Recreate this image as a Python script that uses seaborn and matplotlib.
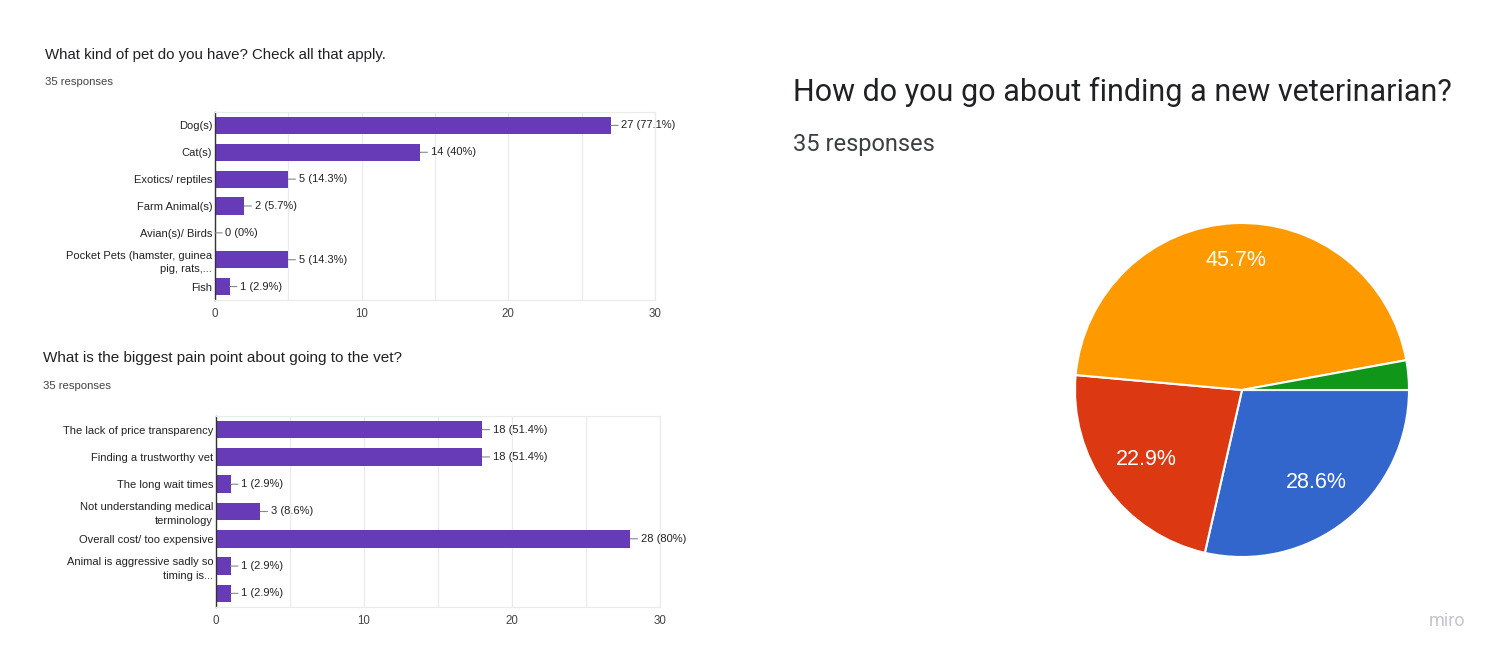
import matplotlib
matplotlib.use("Agg")
import matplotlib.pyplot as plt
import seaborn as sns
import pandas as pd

# ---------------- data ----------------
pet_categories = ["Dog(s)", "Cat(s)", "Exotics/ reptiles", "Farm Animal(s)",
                  "Avian(s)/ Birds", "Pocket Pets (hamster, guinea\npig, rats,...", "Fish"]
pet_counts = [27, 14, 5, 2, 0, 5, 1]

pain_categories = ["The lack of price transparency", "Finding a trustworthy vet",
                   "The long wait times", "Not understanding medical\nterminology",
                   "Overall cost/ too expensive", "Animal is aggressive sadly so\ntiming is...", " "]
pain_counts = [18, 18, 1, 3, 28, 1, 1]

n_responses = 35
x_ticks = [0, 10, 20, 30]

pie_counts = [10, 8, 16, 1]
pie_colors = ["#3366cc", "#dc3912", "#ff9900", "#109618"]

# ---------------- style ----------------
sns.set_theme(style="white")
plt.rcParams['font.family'] = ['Liberation Sans', 'DejaVu Sans']

W, H = 1505, 664
fig = plt.figure(figsize=(W / 100, H / 100), dpi=100)
fig.patch.set_facecolor("white")

BAR = "#673ab7"


def px(x, y_top, w, h):
    return [x / W, (H - y_top - h) / H, w / W, h / H]


def bar_chart(rect, cats, vals):
    ax = fig.add_axes(rect)
    df = pd.DataFrame({"cat": cats, "val": vals})
    sns.barplot(data=df, x="val", y="cat", orient="h", color=BAR, width=0.64,
                saturation=1, ax=ax, edgecolor=BAR, linewidth=0)
    ax.set_xlim(0, 30)
    ax.set_ylim(len(cats) - 0.5, -0.5)
    ax.set_xticks(x_ticks)
    ax.set_xticks([5, 15, 25], minor=True)
    ax.grid(axis="x", which="both", color="#ebebeb", linewidth=0.9)
    ax.set_axisbelow(True)
    ax.set_xlabel("")
    ax.set_ylabel("")
    for s in ["top", "right", "bottom"]:
        ax.spines[s].set_color("#ebebeb")
        ax.spines[s].set_linewidth(0.9)
    ax.spines["left"].set_color("#333333")
    ax.spines["left"].set_linewidth(1.0)
    ax.tick_params(axis="x", which="both", length=0, pad=6, labelsize=8.3, labelcolor="#444444")
    ax.tick_params(axis="y", length=0, pad=2, labelsize=8, labelcolor="#222222")
    for lab in ax.get_yticklabels():
        lab.set_linespacing(1.45)
        lab.set_multialignment("right")
    for i, v in enumerate(vals):
        pct = round(v / n_responses * 100, 1)
        ax.annotate(f"{v} ({pct:g}%)", xy=(v, i), xytext=(7.5, 0), textcoords="offset points",
                    va="center", ha="left", fontsize=8, color="#222222",
                    arrowprops=dict(arrowstyle="-", color="#888888", lw=0.8,
                                    shrinkA=0, shrinkB=0))
    return ax


# top bar chart
bar_chart(px(215, 112, 440, 188), pet_categories, pet_counts)
fig.text(45 / W, 1 - 55 / H, "What kind of pet do you have? Check all that apply.",
         fontsize=10.8, color="#202124", va="center", ha="left")
fig.text(45 / W, 1 - 82 / H, "35 responses", fontsize=8.2, color="#444444", va="center", ha="left")

# bottom bar chart
bar_chart(px(216, 416, 444, 191), pain_categories, pain_counts)
fig.text(43 / W, 1 - 358 / H, "What is the biggest pain point about going to the vet?",
         fontsize=11, color="#202124", va="center", ha="left")
fig.text(43 / W, 1 - 386 / H, "35 responses", fontsize=8.2, color="#444444", va="center", ha="left")

# pie chart
r = 167
cx, cy = 1242, 390
axp = fig.add_axes(px(cx - r, cy - r, 2 * r, 2 * r))
wedges, texts, autotexts = axp.pie(
    pie_counts, colors=pie_colors, startangle=0, counterclock=False,
    autopct=lambda p: f"{p:.1f}%" if p > 5 else "", pctdistance=0.71,
    wedgeprops=dict(edgecolor="white", linewidth=1.5),
    textprops=dict(color="white", fontsize=15.5))
# largest slice label sits slightly further out in the reference
big = max(range(len(pie_counts)), key=lambda k: pie_counts[k])
x0, y0 = autotexts[big].get_position()
autotexts[big].set_position((x0 * 1.09, y0 * 1.09))
axp.set_xlim(-1.0, 1.0)
axp.set_ylim(-1.0, 1.0)
axp.set_aspect("equal")
axp.axis("off")

fig.text(793 / W, 1 - 92 / H, "How do you go about finding a new veterinarian?",
         fontsize=22, color="#202124", va="center", ha="left", family=["Roboto", "DejaVu Sans"])
fig.text(793 / W, 1 - 145 / H, "35 responses",
         fontsize=17, color="#3c4043", va="center", ha="left", family=["Roboto", "DejaVu Sans"])

fig.text(1447 / W, 1 - 621 / H, "miro", fontsize=13, color="#c4c4cc", va="center", ha="center",
         family=["Roboto", "DejaVu Sans"])

fig.savefig("out.png", dpi=100, facecolor="white")
